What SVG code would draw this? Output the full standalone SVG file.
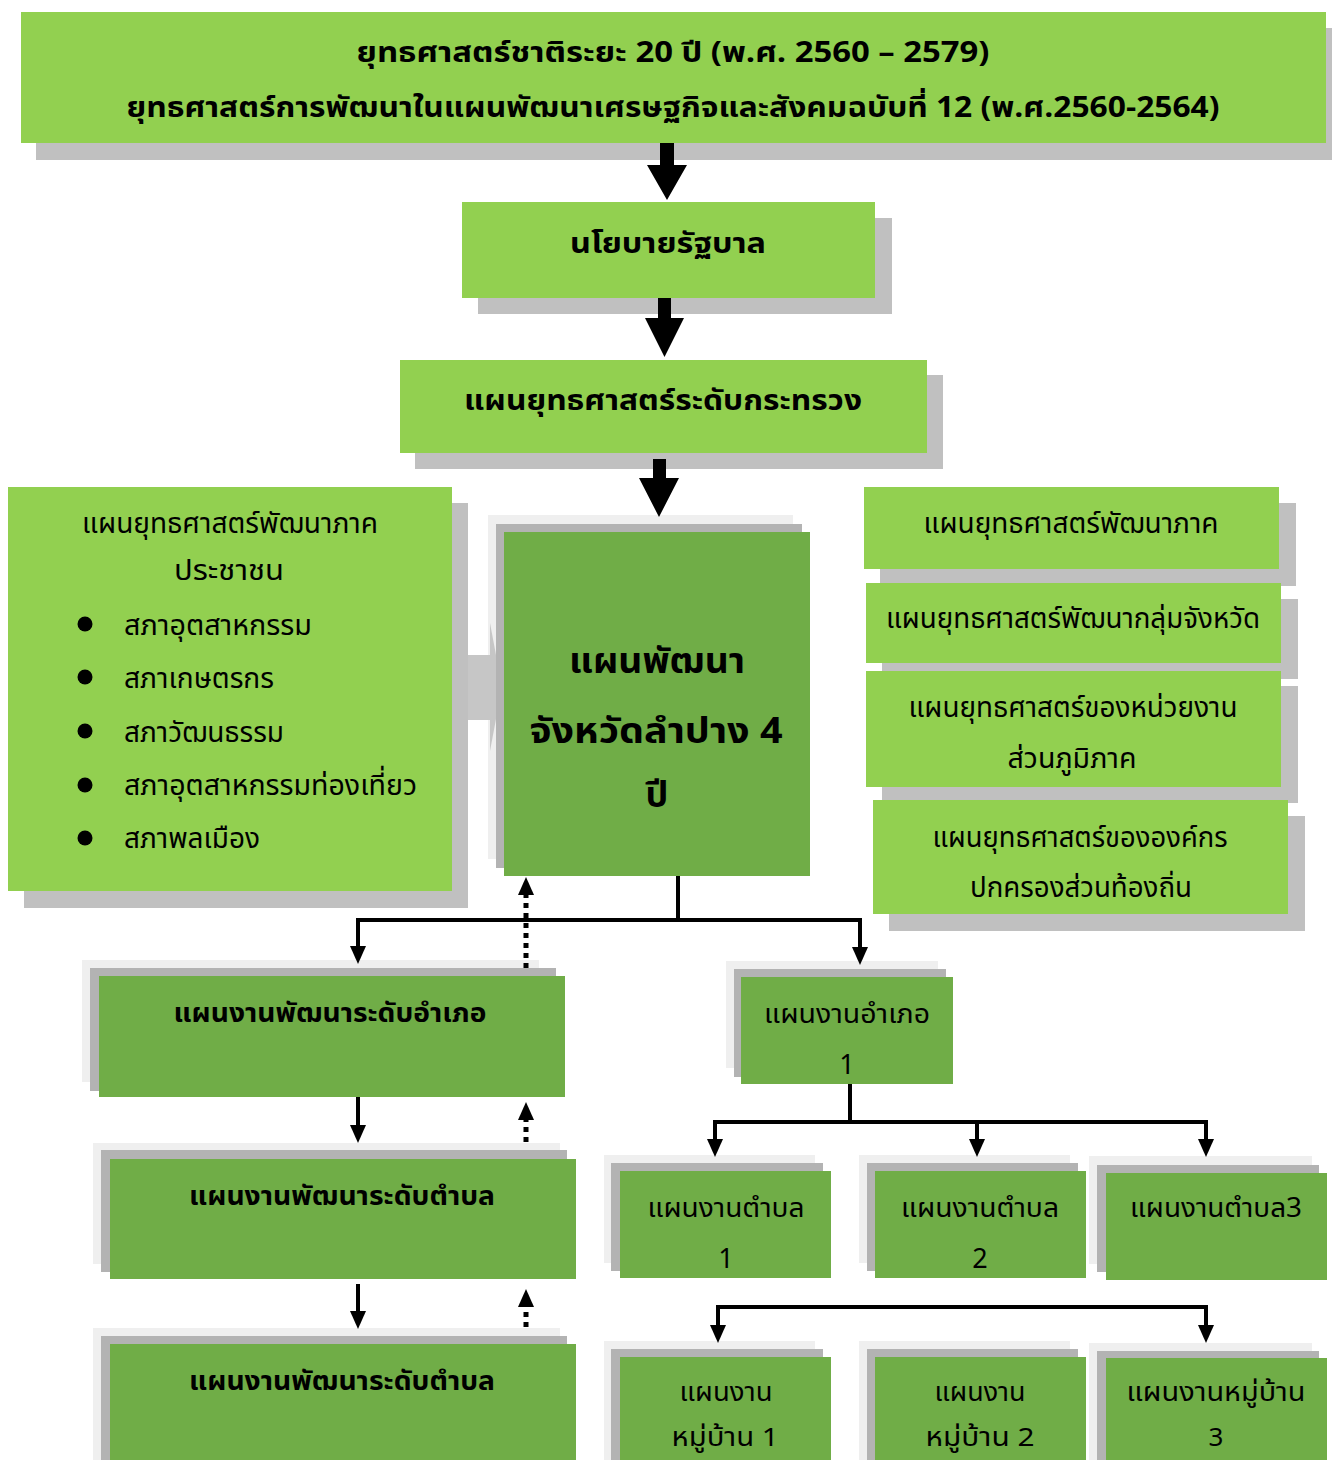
<svg xmlns="http://www.w3.org/2000/svg" width="1332" height="1460" viewBox="0 0 1332 1460">
<defs>
<style>
.t{font-family:"Noto Sans Thai","Noto Sans","DejaVu Sans",sans-serif;fill:#000;}
.b{font-weight:bold;}
.lg{fill:#92D050;}
.dg{fill:#70AD47;}
.sh{fill:#C0C0C0;}
.s1{fill:#EFEFEF;}
.s2{fill:#B3B3B3;}
.ln{fill:none;stroke:#000;stroke-width:4;}
.dl{fill:none;stroke:#000;stroke-width:5;stroke-dasharray:5 5;}
.blk{fill:#000;}
</style>
<marker id="ah" markerUnits="userSpaceOnUse" markerWidth="18" markerHeight="16" viewBox="0 0 18 16" refX="8" refY="8" orient="auto">
<path d="M0,0 L18,8 L0,16 z" fill="#000"/>
</marker>
</defs>
<rect width="1332" height="1460" fill="#fff"/>

<g id="n-national">
<rect class="sh" x="36" y="28" width="1296" height="132"/>
<rect class="lg" x="21" y="12" width="1305" height="131"/>
<text class="t b" x="673" y="62" font-size="28" text-anchor="middle" textLength="633" lengthAdjust="spacingAndGlyphs">ยุทธศาสตร์ชาติระยะ 20 ปี (พ.ศ. 2560 – 2579)</text>
<text class="t b" x="673" y="117" font-size="28" text-anchor="middle" textLength="1093" lengthAdjust="spacingAndGlyphs">ยุทธศาสตร์การพัฒนาในแผนพัฒนาเศรษฐกิจและสังคมฉบับที่ 12 (พ.ศ.2560-2564)</text>
</g>

<g id="n-gov">
<rect class="sh" x="478" y="218" width="414" height="96"/>
<rect class="lg" x="462" y="202" width="413" height="96"/>
<text class="t b" x="668" y="253" font-size="28" text-anchor="middle" textLength="196" lengthAdjust="spacingAndGlyphs">นโยบายรัฐบาล</text>
</g>

<g id="n-ministry">
<rect class="sh" x="415" y="375" width="528" height="94"/>
<rect class="lg" x="400" y="360" width="527" height="93"/>
<text class="t b" x="663" y="410" font-size="28" text-anchor="middle" textLength="398" lengthAdjust="spacingAndGlyphs">แผนยุทธศาสตร์ระดับกระทรวง</text>
</g>

<g id="n-people">
<rect class="sh" x="24" y="503" width="444" height="405"/>
<rect class="lg" x="8" y="487" width="444" height="404"/>
<text class="t" x="230" y="533" font-size="29" text-anchor="middle" textLength="296" lengthAdjust="spacingAndGlyphs">แผนยุทธศาสตร์พัฒนาภาค</text>
<text class="t" x="229" y="580" font-size="29" text-anchor="middle" textLength="110" lengthAdjust="spacingAndGlyphs">ประชาชน</text>
<circle cx="85" cy="624" r="7.5" class="blk"/>
<circle cx="85" cy="677" r="7.5" class="blk"/>
<circle cx="85" cy="731" r="7.5" class="blk"/>
<circle cx="85" cy="785" r="7.5" class="blk"/>
<circle cx="85" cy="838" r="7.5" class="blk"/>
<text class="t" x="124" y="635" font-size="29" textLength="188" lengthAdjust="spacingAndGlyphs">สภาอุตสาหกรรม</text>
<text class="t" x="124" y="688" font-size="29" textLength="150" lengthAdjust="spacingAndGlyphs">สภาเกษตรกร</text>
<text class="t" x="124" y="742" font-size="29" textLength="160" lengthAdjust="spacingAndGlyphs">สภาวัฒนธรรม</text>
<text class="t" x="124" y="795" font-size="29" textLength="293" lengthAdjust="spacingAndGlyphs">สภาอุตสาหกรรมท่องเที่ยว</text>
<text class="t" x="124" y="848" font-size="29" textLength="136" lengthAdjust="spacingAndGlyphs">สภาพลเมือง</text>
</g>

<g id="n-province">
<rect class="s1" x="488" y="515" width="305" height="344"/>
<polygon points="468,655 490,655 490,623 502,687 490,751 490,720 468,720" fill="#C6C6C6"/>
<rect class="s2" x="496" y="524" width="306" height="344"/>
<rect class="dg" x="504" y="532" width="306" height="344"/>
<text class="t b" x="657" y="673" font-size="36" text-anchor="middle" textLength="176" lengthAdjust="spacingAndGlyphs">แผนพัฒนา</text>
<text class="t b" x="656" y="743" font-size="36" text-anchor="middle" textLength="253" lengthAdjust="spacingAndGlyphs">จังหวัดลำปาง 4</text>
<text class="t b" x="657" y="807" font-size="36" text-anchor="middle">ปี</text>
</g>

<g id="n-region">
<rect class="sh" x="880" y="503" width="416" height="83"/>
<rect class="lg" x="864" y="487" width="415" height="82"/>
<text class="t" x="1071" y="533" font-size="28" text-anchor="middle" textLength="295" lengthAdjust="spacingAndGlyphs">แผนยุทธศาสตร์พัฒนาภาค</text>
</g>
<g id="n-provgroup">
<rect class="sh" x="882" y="599" width="416" height="80"/>
<rect class="lg" x="866" y="583" width="415" height="80"/>
<text class="t" x="1073" y="628" font-size="28" text-anchor="middle" textLength="374" lengthAdjust="spacingAndGlyphs">แผนยุทธศาสตร์พัฒนากลุ่มจังหวัด</text>
</g>
<g id="n-regional-agency">
<rect class="sh" x="882" y="686" width="416" height="117"/>
<rect class="lg" x="866" y="671" width="415" height="116"/>
<text class="t" x="1073" y="717" font-size="28" text-anchor="middle" textLength="329" lengthAdjust="spacingAndGlyphs">แผนยุทธศาสตร์ของหน่วยงาน</text>
<text class="t" x="1072" y="768" font-size="28" text-anchor="middle" textLength="129" lengthAdjust="spacingAndGlyphs">ส่วนภูมิภาค</text>
</g>
<g id="n-local-gov">
<rect class="sh" x="889" y="816" width="416" height="115"/>
<rect class="lg" x="873" y="800" width="415" height="114"/>
<text class="t" x="1080" y="847" font-size="28" text-anchor="middle" textLength="295" lengthAdjust="spacingAndGlyphs">แผนยุทธศาสตร์ขององค์กร</text>
<text class="t" x="1081" y="897" font-size="28" text-anchor="middle" textLength="222" lengthAdjust="spacingAndGlyphs">ปกครองส่วนท้องถิ่น</text>
</g>

<g id="n-district-plan">
<rect class="s1" x="82" y="960" width="457" height="122"/>
<rect class="s2" x="90" y="968" width="466" height="123"/>
<rect class="dg" x="99" y="976" width="466" height="121"/>
<text class="t b" x="330" y="1022" font-size="26" text-anchor="middle" textLength="313" lengthAdjust="spacingAndGlyphs">แผนงานพัฒนาระดับอำเภอ</text>
</g>
<g id="n-subdistrict-plan-a">
<rect class="s1" x="93" y="1143" width="467" height="121"/>
<rect class="s2" x="101" y="1150" width="466" height="122"/>
<rect class="dg" x="110" y="1159" width="466" height="120"/>
<text class="t b" x="342" y="1205" font-size="26" text-anchor="middle" textLength="306" lengthAdjust="spacingAndGlyphs">แผนงานพัฒนาระดับตำบล</text>
</g>
<g id="n-subdistrict-plan-b">
<rect class="s1" x="93" y="1328" width="467" height="132"/>
<rect class="s2" x="101" y="1336" width="466" height="124"/>
<rect class="dg" x="110" y="1344" width="466" height="116"/>
<text class="t b" x="342" y="1390" font-size="26" text-anchor="middle" textLength="306" lengthAdjust="spacingAndGlyphs">แผนงานพัฒนาระดับตำบล</text>
</g>

<g id="n-amphoe1">
<rect class="s1" x="726" y="961" width="212" height="107"/>
<rect class="s2" x="734" y="969" width="212" height="108"/>
<rect class="dg" x="741" y="977" width="212" height="107"/>
<text class="t" x="847" y="1023" font-size="27" text-anchor="middle" textLength="166" lengthAdjust="spacingAndGlyphs">แผนงานอำเภอ</text>
<text class="t" x="847" y="1074" font-size="27" text-anchor="middle">1</text>
</g>

<g id="n-tambon1">
<rect class="s1" x="604" y="1155" width="211" height="108"/>
<rect class="s2" x="611" y="1163" width="212" height="108"/>
<rect class="dg" x="620" y="1171" width="211" height="107"/>
<text class="t" x="726" y="1217" font-size="27" text-anchor="middle" textLength="157" lengthAdjust="spacingAndGlyphs">แผนงานตำบล</text>
<text class="t" x="726" y="1268" font-size="27" text-anchor="middle">1</text>
</g>
<g id="n-tambon2">
<rect class="s1" x="859" y="1155" width="211" height="108"/>
<rect class="s2" x="867" y="1163" width="211" height="108"/>
<rect class="dg" x="875" y="1171" width="211" height="107"/>
<text class="t" x="980" y="1217" font-size="27" text-anchor="middle" textLength="158" lengthAdjust="spacingAndGlyphs">แผนงานตำบล</text>
<text class="t" x="980" y="1268" font-size="27" text-anchor="middle">2</text>
</g>
<g id="n-tambon3">
<rect class="s1" x="1089" y="1156" width="223" height="108"/>
<rect class="s2" x="1097" y="1165" width="222" height="107"/>
<rect class="dg" x="1106" y="1173" width="221" height="107"/>
<text class="t" x="1216" y="1217" font-size="27" text-anchor="middle" textLength="172" lengthAdjust="spacingAndGlyphs">แผนงานตำบล3</text>
</g>

<g id="n-village1">
<rect class="s1" x="604" y="1341" width="211" height="119"/>
<rect class="s2" x="611" y="1349" width="212" height="111"/>
<rect class="dg" x="620" y="1357" width="211" height="103"/>
<text class="t" x="726" y="1401" font-size="27" text-anchor="middle" textLength="93" lengthAdjust="spacingAndGlyphs">แผนงาน</text>
<text class="t" x="725" y="1446" font-size="26" text-anchor="middle" textLength="107" lengthAdjust="spacingAndGlyphs">หมู่บ้าน 1</text>
</g>
<g id="n-village2">
<rect class="s1" x="859" y="1341" width="211" height="119"/>
<rect class="s2" x="867" y="1349" width="211" height="111"/>
<rect class="dg" x="875" y="1357" width="211" height="103"/>
<text class="t" x="980" y="1401" font-size="27" text-anchor="middle" textLength="91" lengthAdjust="spacingAndGlyphs">แผนงาน</text>
<text class="t" x="980" y="1446" font-size="26" text-anchor="middle" textLength="109" lengthAdjust="spacingAndGlyphs">หมู่บ้าน 2</text>
</g>
<g id="n-village3">
<rect class="s1" x="1089" y="1343" width="223" height="117"/>
<rect class="s2" x="1097" y="1351" width="222" height="109"/>
<rect class="dg" x="1106" y="1358" width="221" height="102"/>
<text class="t" x="1216" y="1401" font-size="27" text-anchor="middle" textLength="179" lengthAdjust="spacingAndGlyphs">แผนงานหมู่บ้าน</text>
<text class="t" x="1216" y="1446" font-size="26" text-anchor="middle">3</text>
</g>

<g id="connectors">
<polygon class="blk" points="660,143 674,143 674,165 687,165 667,200 647,165 660,165"/>
<polygon class="blk" points="658,298 671,298 671,318 684,318 664.5,357 645,318 658,318"/>
<polygon class="blk" points="653,459 666,459 666,478 679,478 659,517 639,478 653,478"/>
<path class="ln" d="M678,876 V920"/>
<path class="ln" d="M680,920 H358 V954" marker-end="url(#ah)"/>
<path class="ln" d="M676,920 H860 V955" marker-end="url(#ah)"/>
<path class="dl" d="M526,968 V887" marker-end="url(#ah)"/>
<path class="ln" d="M358,1097 V1133" marker-end="url(#ah)"/>
<path class="dl" d="M526,1142 V1112" marker-end="url(#ah)"/>
<path class="ln" d="M358,1284 V1319" marker-end="url(#ah)"/>
<path class="dl" d="M526,1327 V1299" marker-end="url(#ah)"/>
<path class="ln" d="M850,1084 V1122"/>
<path class="ln" d="M852,1122 H715 V1147" marker-end="url(#ah)"/>
<path class="ln" d="M848,1122 H1206 V1147" marker-end="url(#ah)"/>
<path class="ln" d="M977,1122 V1147" marker-end="url(#ah)"/>
<path class="ln" d="M964,1307 H718 V1333" marker-end="url(#ah)"/>
<path class="ln" d="M960,1307 H1206 V1333" marker-end="url(#ah)"/>
</g>
</svg>
